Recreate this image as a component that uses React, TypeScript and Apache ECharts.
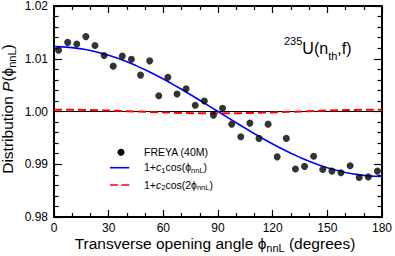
import React, { useEffect, useRef } from "react";
import * as echarts from "echarts";

const FONT = "'Liberation Sans', Arial, Helvetica, sans-serif";

// FREYA (40M) points
const ANGLES = [2.5, 7.5, 12.5, 17.5, 22.5, 27.5, 32.5, 37.5, 42.5, 47.5, 52.5, 57.5, 62.5, 67.5, 72.5, 77.5, 82.5, 87.5,
  92.5, 97.5, 102.5, 107.5, 112.5, 117.5, 122.5, 127.5, 132.5, 137.5, 142.5, 147.5, 152.5, 157.5, 162.5, 167.5, 172.5, 177.5];
const FREYA = [1.0116, 1.0131, 1.0128, 1.0142, 1.0125, 1.0106, 1.0086, 1.0105, 1.0099, 1.0069, 1.0096, 1.0030, 1.0065, 1.0033,
  1.0043, 1.0012, 1.0020, 0.9993, 1.0006, 0.9976, 0.9952, 0.9978, 0.9949, 0.9976, 0.9914, 0.9949, 0.9891, 0.9896, 0.9915,
  0.9890, 0.9887, 0.9884, 0.9897, 0.9875, 0.9876, 0.9887];

// 1 + c1 cos(phi) fit, read every 5 degrees
const FIT1_ANGLES = [0, 5, 10, 15, 20, 25, 30, 35, 40, 45, 50, 55, 60, 65, 70, 75, 80, 85, 90,
  95, 100, 105, 110, 115, 120, 125, 130, 135, 140, 145, 150, 155, 160, 165, 170, 175, 180];
const FIT1 = [1.0123, 1.01225, 1.01211, 1.01188, 1.01156, 1.01115, 1.01065, 1.01008, 1.00942, 1.0087, 1.00791, 1.00706,
  1.00615, 1.0052, 1.00421, 1.00318, 1.00214, 1.00107, 1.0, 0.99893, 0.99786, 0.99682, 0.99579, 0.9948, 0.99385, 0.99294,
  0.99209, 0.9913, 0.99058, 0.98992, 0.98935, 0.98885, 0.98844, 0.98812, 0.98789, 0.98775, 0.9877];

// 1 + c2 cos(2 phi) fit, read every 10 degrees
const FIT2_ANGLES = [0, 10, 20, 30, 40, 50, 60, 70, 80, 90, 100, 110, 120, 130, 140, 150, 160, 170, 180];
const FIT2 = [1.00035, 1.00033, 1.00027, 1.00018, 1.00006, 0.99994, 0.99983, 0.99973, 0.99967, 0.99965, 0.99967, 0.99973,
  0.99983, 0.99994, 1.00006, 1.00018, 1.00027, 1.00033, 1.00035];

// reference line at unity
const REF_ANGLES = [0, 180];
const REF = [1.0, 1.0];

const zip = (a: number[], b: number[]) => a.map((x, i) => [x, b[i]]);

export default function App() {
  const ref = useRef<HTMLDivElement>(null);
  useEffect(() => {
    if (!ref.current) return;
    const chart = echarts.init(ref.current, null, { renderer: "svg" });
    const axisLine = { show: true, onZero: false, lineStyle: { color: "#000", width: 2 } };
    const xBase = {
      type: "value" as const,
      min: 0,
      max: 180,
      interval: 30,
      axisLine,
      splitLine: { show: false },
      axisTick: { inside: true, length: 7, lineStyle: { color: "#000", width: 1.2 } },
      minorTick: { show: true, splitNumber: 3, length: 4, lineStyle: { color: "#000", width: 1.2 } },
    };
    const yBase = {
      type: "value" as const,
      min: 0.98,
      max: 1.02,
      interval: 0.01,
      axisLine,
      splitLine: { show: false },
      axisTick: { inside: true, length: 8, lineStyle: { color: "#000", width: 1.2 } },
      minorTick: { show: true, splitNumber: 5, length: 4.5, lineStyle: { color: "#000", width: 1.2 } },
    };
    chart.setOption({
      animation: false,
      backgroundColor: "#fff",
      grid: { left: 54, right: 12, top: 6, bottom: 39, containLabel: false },
      xAxis: [
        { ...xBase, position: "bottom", axisLabel: { fontSize: 12, color: "#000", margin: 5, fontFamily: FONT } },
        { ...xBase, position: "top", axisLabel: { show: false } },
      ],
      yAxis: [
        {
          ...yBase,
          position: "left",
          axisLabel: { fontSize: 12, color: "#000", margin: 6, fontFamily: FONT, formatter: (v: number) => v.toFixed(2) },
        },
        { ...yBase, position: "right", axisLabel: { show: false } },
      ],
      series: [
        {
          type: "line",
          data: zip(REF_ANGLES, REF),
          showSymbol: false,
          lineStyle: { color: "#000", width: 1.2 },
          z: 1,
        },
        {
          type: "line",
          data: zip(FIT2_ANGLES, FIT2),
          showSymbol: false,
          lineStyle: { color: "#ff0000", width: 2, type: [8, 4] },
          z: 2,
        },
        {
          type: "line",
          data: zip(FIT1_ANGLES, FIT1),
          showSymbol: false,
          lineStyle: { color: "#0000ff", width: 1.6 },
          z: 3,
        },
        {
          type: "scatter",
          data: zip(ANGLES, FREYA),
          symbol: "circle",
          symbolSize: 7,
          itemStyle: { color: "#000" },
          z: 4,
        },
      ],
      graphic: [
        {
          type: "text",
          x: 215,
          y: 243,
          style: {
            text: "{m|Transverse opening angle ϕ}{s|nnL}{m| (degrees)}",
            rich: {
              m: { fontSize: 15.5, lineHeight: 20, fontFamily: FONT, fill: "#000" },
              s: { fontSize: 11, lineHeight: 8, verticalAlign: "bottom", fontFamily: FONT, fill: "#000" },
            },
            align: "center",
            verticalAlign: "middle",
          },
        },
        {
          type: "text",
          x: 7,
          y: 109,
          rotation: Math.PI / 2,
          style: {
            text: "{m|Distribution }{i|P}{m|(ϕ}{s|nnL}{m|)}",
            rich: {
              m: { fontSize: 15.5, lineHeight: 20, fontFamily: FONT, fill: "#000" },
              i: { fontSize: 15.5, lineHeight: 20, fontStyle: "italic", fontFamily: FONT, fill: "#000" },
              s: { fontSize: 11, lineHeight: 8, verticalAlign: "bottom", fontFamily: FONT, fill: "#000" },
            },
            align: "center",
            verticalAlign: "middle",
          },
        },
        {
          type: "text",
          x: 284,
          y: 48,
          style: {
            text: "{p|235}{m|U(n}{s|th}{m|,f)}",
            rich: {
              m: { fontSize: 16, lineHeight: 26, fontFamily: FONT, fill: "#000" },
              p: { fontSize: 11, lineHeight: 6, verticalAlign: "top", fontFamily: FONT, fill: "#000" },
              s: { fontSize: 11, lineHeight: 12, verticalAlign: "bottom", fontFamily: FONT, fill: "#000" },
            },
            align: "left",
            verticalAlign: "middle",
          },
        },
        // legend
        { type: "circle", shape: { cx: 121, cy: 152.3, r: 3.5 }, style: { fill: "#000" } },
        {
          type: "text",
          x: 144,
          y: 152,
          style: { text: "FREYA (40M)", fontSize: 10.5, fontFamily: FONT, fill: "#000", align: "left", verticalAlign: "middle" },
        },
        { type: "line", shape: { x1: 110, y1: 167.7, x2: 129.3, y2: 167.7 }, style: { stroke: "#0000ff", lineWidth: 1.6 } },
        {
          type: "text",
          x: 144,
          y: 167,
          style: {
            text: "{m|1+}{i|c}{s|1}{m|cos(ϕ}{s|nnL}{m|)}",
            rich: {
              m: { fontSize: 10.5, lineHeight: 14, fontFamily: FONT, fill: "#000" },
              i: { fontSize: 10.5, lineHeight: 14, fontStyle: "italic", fontFamily: FONT, fill: "#000" },
              s: { fontSize: 7.5, lineHeight: 6, verticalAlign: "bottom", fontFamily: FONT, fill: "#000" },
            },
            align: "left",
            verticalAlign: "middle",
          },
        },
        {
          type: "line",
          shape: { x1: 110, y1: 185, x2: 129.3, y2: 185 },
          style: { stroke: "#ff0000", lineWidth: 1.6, lineDash: [8, 3.3] },
        },
        {
          type: "text",
          x: 144,
          y: 184.5,
          style: {
            text: "{m|1+}{i|c}{s|2}{m|cos(2ϕ}{s|nnL}{m|)}",
            rich: {
              m: { fontSize: 10.5, lineHeight: 14, fontFamily: FONT, fill: "#000" },
              i: { fontSize: 10.5, lineHeight: 14, fontStyle: "italic", fontFamily: FONT, fill: "#000" },
              s: { fontSize: 7.5, lineHeight: 6, verticalAlign: "bottom", fontFamily: FONT, fill: "#000" },
            },
            align: "left",
            verticalAlign: "middle",
          },
        },
      ],
    });
    return () => chart.dispose();
  }, []);
  return <div ref={ref} style={{ position: "absolute", left: 0, top: 0, width: 395, height: 256 }} />;
}
